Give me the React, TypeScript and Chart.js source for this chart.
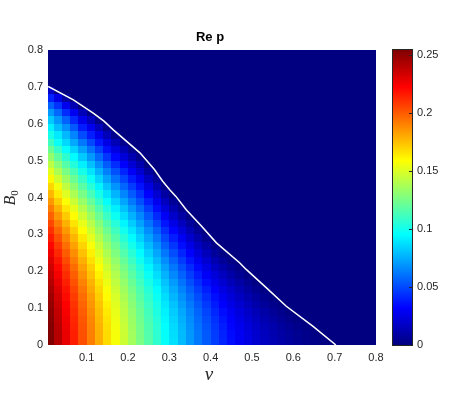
import React, { useEffect, useRef } from "react";
import { Chart, registerables } from "chart.js";

Chart.register(...registerables);

// ---- data -------------------------------------------------------------
const titleText = "Re p";
const xLabelText = "\u03bd"; // ν
const yLabelMain = "B";
const yLabelSub = "0";

// heat-map grid centres (cells are 0.02 wide in both directions)
const nuCenters = [
  0.01, 0.03, 0.05, 0.07, 0.09, 0.11, 0.13, 0.15, 0.17, 0.19,
  0.21, 0.23, 0.25, 0.27, 0.29, 0.31, 0.33, 0.35, 0.37, 0.39,
  0.41, 0.43, 0.45, 0.47, 0.49, 0.51, 0.53, 0.55, 0.57, 0.59,
  0.61, 0.63, 0.65, 0.67, 0.69, 0.71, 0.73, 0.75, 0.77, 0.79,
];
const b0Centers = [
  0.01, 0.03, 0.05, 0.07, 0.09, 0.11, 0.13, 0.15, 0.17, 0.19,
  0.21, 0.23, 0.25, 0.27, 0.29, 0.31, 0.33, 0.35, 0.37, 0.39,
  0.41, 0.43, 0.45, 0.47, 0.49, 0.51, 0.53, 0.55, 0.57, 0.59,
  0.61, 0.63, 0.65, 0.67, 0.69, 0.71, 0.73, 0.75, 0.77, 0.79,
];
const cellSize = 0.02;

// Re p: one array per ν column, going up in B0 from 0.01.
// Cells past the end of a column are beyond the white contour where Re p = 0.
const reP: number[][] = [
  [0.2546,0.2542,0.2535,0.2524,0.2510,0.2492,0.2470,0.2445,0.2416,0.2383,0.2347,0.2307,0.2263,0.2216,0.2164,0.2109,0.2050,0.1986,0.1919,0.1848,0.1772,0.1691,0.1607,0.1518,0.1423,0.1324,0.1220,0.1110,0.101,0.092,0.082,0.070,0.056,0.040,0.018],
  [0.2413,0.2409,0.2402,0.2391,0.2377,0.2359,0.2337,0.2312,0.2283,0.2250,0.2213,0.2173,0.2129,0.2082,0.2030,0.1975,0.1916,0.1852,0.1785,0.1713,0.1638,0.1558,0.1474,0.1385,0.1291,0.1193,0.1089,0.0980,0.090,0.079,0.0695,0.0575,0.0442,0.0254],
  [0.2282,0.2278,0.2271,0.2260,0.2246,0.2228,0.2206,0.2181,0.2152,0.2119,0.2083,0.2043,0.1999,0.1952,0.1900,0.1845,0.1786,0.1723,0.1656,0.1585,0.1510,0.1432,0.1347,0.1259,0.1167,0.1070,0.0967,0.0860,0.0777,0.0678,0.0562,0.0429,0.0279,0.0088],
  [0.2155,0.2151,0.2144,0.2133,0.2119,0.2100,0.2079,0.2053,0.2024,0.1992,0.1956,0.1915,0.1872,0.1824,0.1773,0.1718,0.1659,0.1596,0.1530,0.1459,0.1384,0.1305,0.1223,0.1135,0.1043,0.0947,0.0846,0.0740,0.0647,0.0537,0.0418,0.0281,0.0129],
  [0.2032,0.2028,0.2021,0.2010,0.1995,0.1977,0.1955,0.1930,0.1900,0.1868,0.1831,0.1791,0.1747,0.1699,0.1648,0.1592,0.1533,0.1470,0.1403,0.1332,0.1258,0.1179,0.1096,0.1009,0.0917,0.0821,0.0721,0.0616,0.0505,0.0389,0.0267,0.0136],
  [0.1912,0.1908,0.1901,0.1890,0.1875,0.1857,0.1835,0.1809,0.1780,0.1747,0.1710,0.1669,0.1625,0.1577,0.1526,0.1470,0.1411,0.1348,0.1281,0.1210,0.1135,0.1057,0.0974,0.0888,0.0797,0.0702,0.0602,0.0498,0.0389,0.0275,0.0155,0.0025],
  [0.1795,0.1791,0.1783,0.1772,0.1757,0.1739,0.1716,0.1690,0.1661,0.1627,0.1590,0.1549,0.1504,0.1456,0.1403,0.1347,0.1288,0.1224,0.1157,0.1085,0.1010,0.0931,0.0848,0.0762,0.0671,0.0576,0.0477,0.0373,0.0266,0.0153,0.0034],
  [0.1682,0.1678,0.1670,0.1659,0.1644,0.1625,0.1602,0.1575,0.1545,0.1511,0.1473,0.1432,0.1386,0.1337,0.1284,0.1227,0.1166,0.1102,0.1034,0.0962,0.0886,0.0806,0.0723,0.0636,0.0545,0.0450,0.0352,0.0250,0.0143,0.0033],
  [0.1572,0.1568,0.1560,0.1548,0.1533,0.1514,0.1491,0.1464,0.1433,0.1398,0.1360,0.1318,0.1272,0.1222,0.1168,0.1111,0.1049,0.0984,0.0916,0.0843,0.0767,0.0688,0.0604,0.0517,0.0427,0.0333,0.0237,0.0137,0.0035],
  [0.1465,0.1461,0.1453,0.1441,0.1425,0.1406,0.1382,0.1355,0.1324,0.1289,0.1250,0.1207,0.1161,0.1110,0.1056,0.0998,0.0936,0.0871,0.0802,0.0729,0.0653,0.0574,0.0491,0.0405,0.0316,0.0224,0.0131,0.0036],
  [0.1362,0.1358,0.1350,0.1338,0.1322,0.1302,0.1278,0.1250,0.1219,0.1183,0.1144,0.1101,0.1054,0.1003,0.0948,0.0890,0.0828,0.0762,0.0693,0.0620,0.0544,0.0465,0.0383,0.0299,0.0212,0.0125,0.0037],
  [0.1262,0.1257,0.1249,0.1237,0.1221,0.1201,0.1177,0.1149,0.1117,0.1081,0.1041,0.0998,0.0950,0.0899,0.0843,0.0785,0.0723,0.0657,0.0588,0.0516,0.0440,0.0363,0.0283,0.0202,0.0117,0.0037],
  [0.1166,0.1161,0.1153,0.1140,0.1123,0.1102,0.1077,0.1048,0.1014,0.0977,0.0935,0.0889,0.0840,0.0786,0.0730,0.0669,0.0605,0.0537,0.0467,0.0394,0.0318,0.0240,0.0161,0.0084,0.0008],
  [0.1073,0.1068,0.1059,0.1046,0.1028,0.1006,0.0980,0.0949,0.0914,0.0875,0.0832,0.0784,0.0733,0.0678,0.0618,0.0556,0.0490,0.0421,0.0349,0.0275,0.0202,0.0128,0.0055],
  [0.0969,0.0964,0.0955,0.0941,0.0922,0.0899,0.0872,0.0840,0.0804,0.0763,0.0718,0.0669,0.0616,0.0559,0.0498,0.0435,0.0368,0.0299,0.0227,0.0157,0.0087,0.0021],
  [0.0877,0.0872,0.0862,0.0847,0.0828,0.0804,0.0775,0.0742,0.0704,0.0661,0.0615,0.0564,0.0509,0.0450,0.0389,0.0325,0.0258,0.0189,0.0122,0.0058],
  [0.0788,0.0782,0.0772,0.0757,0.0737,0.0711,0.0681,0.0646,0.0607,0.0563,0.0515,0.0463,0.0407,0.0348,0.0285,0.0221,0.0156,0.0090,0.0030],
  [0.0701,0.0695,0.0685,0.0669,0.0648,0.0622,0.0591,0.0555,0.0516,0.0471,0.0423,0.0368,0.0315,0.0258,0.0195,0.0132,0.0073,0.0014],
  [0.0621,0.0615,0.0604,0.0588,0.0567,0.0540,0.0508,0.0471,0.0430,0.0385,0.0335,0.0282,0.0226,0.0168,0.0111,0.0056,0.0007],
  [0.0546,0.0540,0.0528,0.0511,0.0489,0.0461,0.0429,0.0391,0.0348,0.0302,0.0253,0.0200,0.0146,0.0091,0.0039],
  [0.0473,0.0466,0.0454,0.0437,0.0413,0.0384,0.0350,0.0311,0.0268,0.0221,0.0171,0.0120,0.0068,0.0021],
  [0.0407,0.0400,0.0388,0.0370,0.0346,0.0317,0.0283,0.0244,0.0202,0.0156,0.0108,0.0061,0.0018],
  [0.0348,0.0341,0.0329,0.0311,0.0287,0.0258,0.0224,0.0186,0.0144,0.0101,0.0057,0.0017],
  [0.0294,0.0287,0.0275,0.0256,0.0233,0.0203,0.0170,0.0133,0.0093,0.0053,0.0017],
  [0.0247,0.0240,0.0227,0.0208,0.0183,0.0153,0.0119,0.0083,0.0046,0.0012],
  [0.0204,0.0196,0.0183,0.0163,0.0138,0.0108,0.0075,0.0041,0.0010],
  [0.0166,0.0158,0.0144,0.0124,0.0098,0.0068,0.0037,0.0009],
  [0.0133,0.0124,0.0110,0.0088,0.0062,0.0034,0.0007],
  [0.0103,0.0094,0.0078,0.0056,0.0030,0.0006],
  [0.0076,0.0067,0.0050,0.0028,0.0006],
  [0.0053,0.0044,0.0028,0.0008],
  [0.0034,0.0025,0.0009],
  [0.0020,0.0010],
  [0.0008],
  [0.0001],
  [],
  [],
  [],
  [],
  [],
];

// white zero contour of Re p
const contourNu = [0.007, 0.068, 0.116, 0.142, 0.164, 0.229, 0.264, 0.284, 0.301, 0.316, 0.341, 0.376, 0.414, 0.470, 0.486, 0.535, 0.583, 0.647, 0.703];
const contourB0 = [0.701, 0.665, 0.629, 0.607, 0.584, 0.521, 0.476, 0.444, 0.421, 0.403, 0.367, 0.325, 0.277, 0.223, 0.205, 0.155, 0.105, 0.051, 0.0];

const xTicks = [0.1, 0.2, 0.3, 0.4, 0.5, 0.6, 0.7, 0.8];
const yTicks = [0, 0.1, 0.2, 0.3, 0.4, 0.5, 0.6, 0.7, 0.8];
const cbTicks = [0, 0.05, 0.1, 0.15, 0.2, 0.25];
const xMin = 0.0066;
const xMax = 0.8;
const yMin = 0;
const yMax = 0.8;
const cMin = 0;
const cMax = 0.2546;

// ---- helpers ----------------------------------------------------------
function jet(t: number): string {
  const tt = Math.max(0, Math.min(1, t));
  const f = (c: number) => Math.max(0, Math.min(1, 1.5 - Math.abs(4 * tt - c)));
  return `rgb(${Math.round(255 * f(3))},${Math.round(255 * f(2))},${Math.round(255 * f(1))})`;
}

const SANS = "'Liberation Sans', Arial, Helvetica, sans-serif";
const SERIF = "'Liberation Serif', 'Times New Roman', serif";
const TICK_COLOR = "#262626";

const heatmapPlugin = {
  id: "heatmap",
  beforeDatasetsDraw(chart: any) {
    const { ctx, chartArea: ca } = chart;
    const xs = chart.scales.x;
    const ys = chart.scales.y;
    ctx.save();
    ctx.beginPath();
    ctx.rect(ca.left, ca.top, ca.right - ca.left, ca.bottom - ca.top);
    ctx.clip();
    for (let i = 0; i < nuCenters.length; i++) {
      const col = reP[i] || [];
      const nu = nuCenters[i];
      const x0 = Math.round(xs.getPixelForValue(nu - cellSize / 2));
      const x1 = Math.round(xs.getPixelForValue(nu + cellSize / 2));
      for (let j = 0; j < b0Centers.length; j++) {
        const b = b0Centers[j];
        const v = j < col.length ? col[j] : 0;
        const yb = Math.round(ys.getPixelForValue(b - cellSize / 2));
        const yt = Math.round(ys.getPixelForValue(b + cellSize / 2));
        ctx.fillStyle = jet((v - cMin) / (cMax - cMin));
        ctx.fillRect(x0, yt, x1 - x0, yb - yt);
      }
    }
    ctx.restore();
  },
  afterDraw(chart: any) {
    const { ctx, chartArea: ca } = chart;
    const cb = chart.scales.cb;
    // colour bar
    const bx0 = Math.round(ca.right + 17);
    const bx1 = Math.round(ca.right + 36);
    const top = Math.round(cb.getPixelForValue(cMax));
    const bot = Math.round(cb.getPixelForValue(cMin));
    ctx.save();
    for (let y = top; y < bot; y++) {
      const v = cb.getValueForPixel(y + 0.5);
      ctx.fillStyle = jet((v - cMin) / (cMax - cMin));
      ctx.fillRect(bx0, y, bx1 - bx0, 1);
    }
    ctx.strokeStyle = TICK_COLOR;
    ctx.lineWidth = 1;
    ctx.strokeRect(bx0 - 0.5, top - 0.5, bx1 - bx0 + 1, bot - top + 1);
    ctx.beginPath();
    for (const t of cbTicks) {
      const y = Math.round(cb.getPixelForValue(t)) + 0.5;
      ctx.moveTo(bx1, y);
      ctx.lineTo(bx1 - 3, y);
    }
    ctx.stroke();

    // title
    ctx.fillStyle = "#000";
    ctx.font = `bold 13px ${SANS}`;
    ctx.textAlign = "center";
    ctx.textBaseline = "alphabetic";
    ctx.fillText(titleText, (ca.left + ca.right) / 2 - 2, 41);

    // x label
    ctx.fillStyle = TICK_COLOR;
    ctx.font = `italic 19px ${SERIF}`;
    ctx.textAlign = "center";
    ctx.fillText(xLabelText, (ca.left + ca.right) / 2 - 3, 380);

    // y label  B_0 (rotated)
    ctx.translate(15, (ca.top + ca.bottom) / 2);
    ctx.rotate(-Math.PI / 2);
    ctx.textAlign = "left";
    ctx.font = `italic 16px ${SERIF}`;
    const bw = ctx.measureText(yLabelMain).width;
    const startX = -8;
    ctx.fillText(yLabelMain, startX, 0);
    ctx.font = `11px ${SERIF}`;
    ctx.fillText(yLabelSub, startX + bw, 3);
    ctx.restore();
  },
};

export default function App() {
  const canvasRef = useRef<HTMLCanvasElement | null>(null);

  useEffect(() => {
    if (!canvasRef.current) return;
    const tickFont = { family: SANS, size: 11 };
    const chart = new Chart(canvasRef.current, {
      type: "scatter",
      data: {
        datasets: [
          {
            data: contourNu.map((x, i) => ({ x, y: contourB0[i] })),
            showLine: true,
            borderColor: "#ffffff",
            borderWidth: 1.5,
            pointRadius: 0,
            fill: false,
            tension: 0,
          },
        ],
      },
      options: {
        responsive: false,
        animation: false,
        devicePixelRatio: 1,
        layout: { padding: { top: 50, left: 0, right: 0, bottom: 0 } },
        plugins: {
          legend: { display: false },
          tooltip: { enabled: false },
          title: { display: false },
        },
        events: [],
        scales: {
          x: {
            type: "linear",
            position: "bottom",
            min: xMin,
            max: xMax,
            grid: { display: false, drawTicks: false },
            border: { display: false },
            afterBuildTicks: (s: any) => {
              s.ticks = xTicks.map((v) => ({ value: v }));
            },
            afterFit: (s: any) => {
              s.height = 50;
            },
            ticks: {
              autoSkip: false,
              maxRotation: 0,
              padding: 6,
              color: TICK_COLOR,
              font: tickFont,
              callback: (v: any) => String(v),
            },
          },
          y: {
            type: "linear",
            position: "left",
            min: yMin,
            max: yMax,
            grid: { display: false, drawTicks: false },
            border: { display: false },
            afterBuildTicks: (s: any) => {
              s.ticks = yTicks.map((v) => ({ value: v }));
            },
            afterFit: (s: any) => {
              s.width = 48;
            },
            ticks: {
              autoSkip: false,
              padding: 5,
              color: TICK_COLOR,
              font: tickFont,
              callback: (v: any) => String(v),
            },
          },
          cb: {
            type: "linear",
            position: "right",
            axis: "y",
            min: cMin,
            max: cMax,
            grid: { display: false, drawTicks: false },
            border: { display: false },
            afterBuildTicks: (s: any) => {
              s.ticks = cbTicks.map((v) => ({ value: v }));
            },
            afterFit: (s: any) => {
              s.width = 96;
            },
            ticks: {
              autoSkip: false,
              padding: 41,
              color: TICK_COLOR,
              font: tickFont,
              callback: (v: any) => String(v),
            },
          },
        },
      } as any,
      plugins: [heatmapPlugin],
    });
    return () => chart.destroy();
  }, []);

  return (
    <div style={{ position: "absolute", left: 0, top: 0, width: 472, height: 395, background: "#fff" }}>
      <canvas ref={canvasRef} width={472} height={395} style={{ width: 472, height: 395, display: "block" }} />
    </div>
  );
}
